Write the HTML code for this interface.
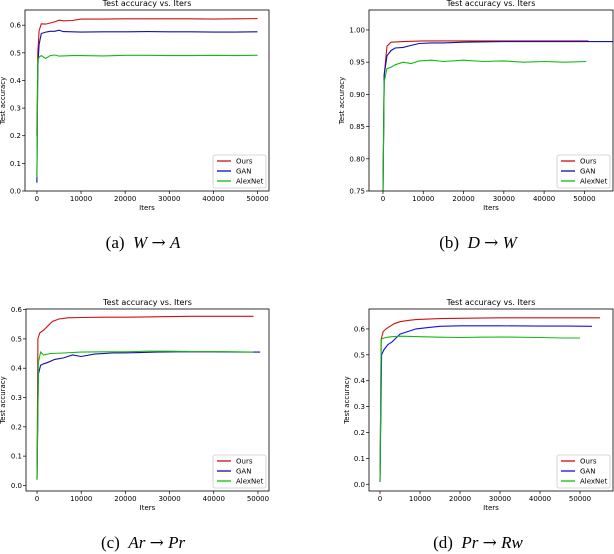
<!DOCTYPE html>
<html><head><meta charset="utf-8">
<style>
html,body{margin:0;padding:0;background:#fff;}
svg{display:block;}
.tk{font-family:"DejaVu Sans","Liberation Sans",sans-serif;font-size:7px;fill:#000;}
.tt{font-family:"DejaVu Sans","Liberation Sans",sans-serif;font-size:8px;fill:#000;}
.cap{font-family:"Liberation Serif",serif;font-size:17px;fill:#000;white-space:pre;}
.arr{font-family:"DejaVu Serif",serif;font-size:17px;}
</style></head>
<body>
<svg id="root" width="614" height="554" viewBox="0 0 614 554" xmlns="http://www.w3.org/2000/svg">
<text class="cap" x="143" y="248" text-anchor="middle" xml:space="preserve">(a)  <tspan font-style="italic">W</tspan> <tspan class="arr">→</tspan> <tspan font-style="italic">A</tspan></text>
<text class="cap" x="478" y="248" text-anchor="middle" xml:space="preserve">(b)  <tspan font-style="italic">D</tspan> <tspan class="arr">→</tspan> <tspan font-style="italic">W</tspan></text>
<text class="cap" x="143" y="548" text-anchor="middle" xml:space="preserve">(c)  <tspan font-style="italic">Ar</tspan> <tspan class="arr">→</tspan> <tspan font-style="italic">Pr</tspan></text>
<text class="cap" x="478" y="548" text-anchor="middle" xml:space="preserve">(d)  <tspan font-style="italic">Pr</tspan> <tspan class="arr">→</tspan> <tspan font-style="italic">Rw</tspan></text>
</svg>
<script>
// ---- Chart A data ----
const aX = [0,200,500,1000,2000,3000,4000,5000,6000,8000,10000,15000,20000,25000,30000,35000,40000,45000,50000];
const aOurs = [0.2,0.5,0.58,0.605,0.604,0.608,0.612,0.618,0.616,0.617,0.622,0.622,0.623,0.623,0.623,0.623,0.622,0.623,0.624];
const aGan = [0.03,0.45,0.53,0.57,0.575,0.578,0.578,0.582,0.577,0.576,0.575,0.576,0.576,0.577,0.576,0.576,0.575,0.575,0.576];
const aAlex = [0.05,0.47,0.485,0.49,0.48,0.49,0.492,0.488,0.489,0.49,0.49,0.489,0.491,0.491,0.49,0.49,0.491,0.49,0.491];
const aYTicks = [0.0,0.1,0.2,0.3,0.4,0.5,0.6];
const aYLabels = ["0.0","0.1","0.2","0.3","0.4","0.5","0.6"];
// ---- Chart B data ----
const bOursX = [0,300,1000,2000,5000,10000,20000,30000,40000,51000];
const bOurs = [0.75,0.93,0.975,0.981,0.982,0.983,0.983,0.983,0.983,0.983];
const bGanX = [0,300,1000,2000,3000,5000,7000,9000,12000,15000,20000,30000,40000,50000,58000];
const bGan = [0.75,0.93,0.96,0.968,0.972,0.973,0.976,0.979,0.98,0.98,0.981,0.982,0.982,0.982,0.982];
const bAlexX = [0,300,1000,2000,3000,5000,7000,9000,12000,15000,20000,25000,30000,35000,40000,45000,50500];
const bAlex = [0.75,0.92,0.94,0.942,0.946,0.95,0.948,0.952,0.953,0.951,0.953,0.951,0.952,0.95,0.951,0.95,0.951];
const bYTicks = [0.75,0.80,0.85,0.90,0.95,1.00];
const bYLabels = ["0.75","0.80","0.85","0.90","0.95","1.00"];
// ---- Chart C data ----
const cOursX = [0,200,600,1500,2500,3500,5000,7000,10000,15000,20000,25000,30000,35000,40000,49000];
const cOurs = [0.02,0.5,0.52,0.53,0.545,0.56,0.568,0.572,0.573,0.574,0.574,0.575,0.576,0.577,0.577,0.577];
const cGanX = [0,300,800,1500,2500,4000,6000,8000,10000,13000,17000,22000,27000,32000,40000,46000,50500];
const cGan = [0.02,0.38,0.41,0.415,0.42,0.43,0.435,0.445,0.44,0.448,0.452,0.453,0.455,0.456,0.456,0.455,0.455];
const cAlexX = [0,300,800,1500,3000,6000,10000,15000,20000,25000,30000,35000,40000,45000,49000];
const cAlex = [0.02,0.42,0.455,0.445,0.45,0.452,0.455,0.456,0.456,0.458,0.458,0.457,0.457,0.456,0.455];
const cYTicks = [0.0,0.1,0.2,0.3,0.4,0.5,0.6];
const cYLabels = ["0.0","0.1","0.2","0.3","0.4","0.5","0.6"];
// ---- Chart D data ----
const dOursX = [0,300,800,1500,2500,3500,5000,7000,9000,12000,15000,20000,25000,30000,40000,50000,55000];
const dOurs = [0.01,0.56,0.59,0.6,0.61,0.62,0.628,0.633,0.636,0.638,0.64,0.641,0.642,0.643,0.643,0.643,0.643];
const dGanX = [0,400,1000,2000,3000,4000,5000,7000,9000,12000,15000,20000,30000,40000,47000,53000];
const dGan = [0.01,0.5,0.52,0.54,0.55,0.565,0.58,0.59,0.6,0.605,0.61,0.612,0.612,0.611,0.611,0.61];
const dAlexX = [0,300,1000,2000,3000,5000,10000,15000,20000,25000,30000,40000,46000,50000];
const dAlex = [0.01,0.56,0.565,0.568,0.57,0.572,0.57,0.568,0.567,0.568,0.569,0.567,0.565,0.565];
const dYTicks = [0.0,0.1,0.2,0.3,0.4,0.5,0.6];
const dYLabels = ["0.0","0.1","0.2","0.3","0.4","0.5","0.6"];
const xTicks = [0,10000,20000,30000,40000,50000];
const xLabels = ["0","10000","20000","30000","40000","50000"];

const NS = "http://www.w3.org/2000/svg";
const root = document.getElementById('root');
function mk(tag, attrs, parent){
  const e = document.createElementNS(NS, tag);
  for (const k in attrs) e.setAttribute(k, attrs[k]);
  (parent||root).appendChild(e);
  return e;
}
function chart(id, box, xd, yd, yT, yL, series, ylx){
  const g = mk('g', {});
  
  
  const sx = v => box.l + (v - xd[0]) / (xd[1] - xd[0]) * (box.r - box.l);
  const sy = v => box.b - (v - yd[0]) / (yd[1] - yd[0]) * (box.b - box.t);
  const clip = mk('clipPath', {id:'clip-' + id}, g);
  mk('rect', {x:box.l, y:box.t, width:box.r-box.l, height:box.b-box.t}, clip);
  series.forEach(s => {
    const pts = s.x.map((xv, i) => sx(xv).toFixed(1) + ',' + sy(s.y[i]).toFixed(1)).join(' ');
    const pl = mk('polyline', {points:pts, fill:'none', stroke:s.c, 'stroke-width':1.1, 'clip-path':'url(#clip-' + id + ')'}, g);
    
    
  });
  const frame = mk('rect', {x:box.l, y:box.t, width:box.r-box.l, height:box.b-box.t, fill:'none', stroke:'#000', 'stroke-width':0.8}, g);
  
  
  xTicks.forEach((t, i) => {
    const x = sx(t);
    mk('line', {x1:x, x2:x, y1:box.b, y2:box.b+3, stroke:'#000', 'stroke-width':0.7}, g);
    const tx = mk('text', {x:x, y:box.b+10, 'text-anchor':'middle', class:'tk'}, g);
    tx.textContent = xLabels[i];
    
    
  });
  yT.forEach((t, i) => {
    const y = sy(t);
    mk('line', {x1:box.l-3, x2:box.l, y1:y, y2:y, stroke:'#000', 'stroke-width':0.7}, g);
    const tx = mk('text', {x:box.l-4, y:y+2.5, 'text-anchor':'end', class:'tk'}, g);
    tx.textContent = yL[i];
    
    
  });
  const cx = (box.l + Math.min(box.r, box.l + 244)) / 2;
  const title = mk('text', {x:cx, y:box.t-4, 'text-anchor':'middle', class:'tt'}, g);
  title.textContent = 'Test accuracy  vs. Iters';
  
  
  const xl = mk('text', {x:cx, y:box.b+19, 'text-anchor':'middle', class:'tk'}, g);
  xl.textContent = 'Iters';
  
  
  const ym = (box.t + box.b) / 2;
  const yl = mk('text', {x:ylx, y:ym, 'text-anchor':'middle', class:'tk', transform:'rotate(-90 ' + ylx + ' ' + ym + ')'}, g);
  yl.textContent = 'Test accuracy';
  
  
  const lw = 53, lh = 33, lx = Math.min(box.r, box.l + 244) - lw - 3, ly = box.b - lh - 3;
  const lg = mk('g', {}, g);
  
  
  mk('rect', {x:lx, y:ly, width:lw, height:lh, rx:2, fill:'#fff', stroke:'#ccc', 'stroke-width':0.8}, lg);
  series.forEach((s, i) => {
    const yy = ly + 6 + i * 10;
    const ln = mk('line', {x1:lx+4, x2:lx+18, y1:yy, y2:yy, stroke:s.c, 'stroke-width':1.3}, lg);
    
    
    const t = mk('text', {x:lx+23, y:yy+2.5, class:'tk'}, lg);
    t.textContent = s.n;
    
    
  });
}
const RED = '#cc1111', BLUE = '#1111aa', GREEN = '#11bb11';
chart('a', {l:25, r:269, t:10, b:191}, [-2700, 52600], [0, 0.655], aYTicks, aYLabels,
  [{n:'Ours', x:aX, y:aOurs, c:RED}, {n:'GAN', x:aX, y:aGan, c:BLUE}, {n:'AlexNet', x:aX, y:aAlex, c:GREEN}], 5);
chart('b', {l:369, r:613, t:10, b:191}, [-3470, 57100], [0.75, 1.031], bYTicks, bYLabels,
  [{n:'Ours', x:bOursX, y:bOurs, c:RED}, {n:'GAN', x:bGanX, y:bGan, c:BLUE}, {n:'AlexNet', x:bAlexX, y:bAlex, c:GREEN}], 344);
chart('c', {l:26, r:269, t:309, b:491}, [-2500, 52500], [-0.019, 0.602], cYTicks, cYLabels,
  [{n:'Ours', x:cOursX, y:cOurs, c:RED}, {n:'GAN', x:cGanX, y:cGan, c:BLUE}, {n:'AlexNet', x:cAlexX, y:cAlex, c:GREEN}], 5);
chart('d', {l:369, r:613, t:309, b:491}, [-2750, 58250], [-0.026, 0.677], dYTicks, dYLabels,
  [{n:'Ours', x:dOursX, y:dOurs, c:RED}, {n:'GAN', x:dGanX, y:dGan, c:'#1111ee'}, {n:'AlexNet', x:dAlexX, y:dAlex, c:GREEN}], 349);
</script>
</body></html>
